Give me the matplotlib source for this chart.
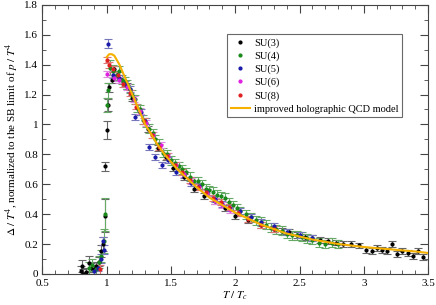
#!/usr/bin/env python3
# -*- coding: utf-8 -*-
import numpy as np
import matplotlib
matplotlib.use("Agg")
import matplotlib.pyplot as plt
from matplotlib.lines import Line2D
from matplotlib.ticker import MultipleLocator

plt.rcParams['font.family'] = ['Liberation Serif', 'DejaVu Serif']
plt.rcParams['mathtext.fontset'] = 'stix'

# improved holographic QCD model curve
model_T = [1.00, 1.02, 1.04, 1.06, 1.08, 1.10, 1.15, 1.20, 1.25, 1.30, 1.35, 1.40,
           1.45, 1.50, 1.55, 1.60, 1.65, 1.70, 1.75, 1.80, 1.85, 1.90, 1.95, 2.00,
           2.10, 2.20, 2.30, 2.40, 2.50, 2.60, 2.70, 2.80, 2.90, 3.00, 3.10, 3.20,
           3.30, 3.40, 3.50]
model_D = [1.45, 1.47, 1.47, 1.46, 1.43, 1.40, 1.30, 1.20, 1.10, 1.00, 0.93, 0.86,
           0.80, 0.75, 0.70, 0.66, 0.62, 0.58, 0.545, 0.51, 0.485, 0.46, 0.435, 0.41,
           0.37, 0.33, 0.30, 0.27, 0.25, 0.23, 0.215, 0.20, 0.19, 0.18, 0.172, 0.165,
           0.157, 0.15, 0.14]

# SU(3)
su3_T = [0.80, 0.81, 0.82, 0.84, 0.86, 0.88, 0.90, 0.92, 0.94, 0.96, 0.97, 0.984,
         0.99, 1.00, 1.01, 1.02, 1.04, 1.06, 1.08, 1.12, 1.16, 1.20, 1.26, 1.32,
         1.40, 1.46, 1.52, 1.60, 1.68, 1.76, 1.84, 1.92, 2.00, 2.10, 2.20, 2.30,
         2.36, 2.42, 2.48, 2.54, 2.60, 2.66, 2.72, 2.78, 2.84, 2.90, 2.96, 3.02,
         3.06, 3.10, 3.14, 3.18, 3.22, 3.26, 3.30, 3.34, 3.38, 3.42, 3.46]
su3_D = [0.02, 0.05, 0.00, 0.01, 0.07, 0.04, 0.03, 0.05, 0.08, 0.15, 0.20, 0.39,
         0.72, 0.96, 1.13, 1.25, 1.30, 1.37, 1.33, 1.30, 1.26, 1.18, 1.08, 0.97,
         0.84, 0.78, 0.71, 0.65, 0.57, 0.52, 0.49, 0.44, 0.39, 0.36, 0.33, 0.30,
         0.29, 0.28, 0.26, 0.25, 0.24, 0.23, 0.22, 0.21, 0.20, 0.20, 0.19, 0.16,
         0.15, 0.17, 0.16, 0.15, 0.20, 0.13, 0.15, 0.14, 0.12, 0.15, 0.11]
su3_err = [0.03, 0.04, 0.03, 0.03, 0.05, 0.03, 0.03, 0.03, 0.03, 0.04, 0.05, 0.11,
           0.03, 0.06, 0.04, 0.03, 0.02, 0.02, 0.02, 0.02, 0.02, 0.02, 0.02, 0.02,
           0.02, 0.02, 0.02, 0.02, 0.02, 0.02, 0.02, 0.02, 0.02, 0.02, 0.02, 0.02,
           0.02, 0.02, 0.02, 0.02, 0.02, 0.02, 0.02, 0.02, 0.02, 0.02, 0.02, 0.02,
           0.02, 0.02, 0.02, 0.02, 0.02, 0.02, 0.02, 0.02, 0.02, 0.02, 0.02]

# SU(4)
su4_T = [0.86, 0.89, 0.92, 0.94, 0.96, 0.98, 0.99, 1.00, 1.01, 1.03, 1.05, 1.08,
         1.10, 1.12, 1.14, 1.16, 1.18, 1.20, 1.22, 1.24, 1.26, 1.28, 1.31, 1.33,
         1.36, 1.38, 1.41, 1.44, 1.47, 1.50, 1.53, 1.56, 1.59, 1.62, 1.65, 1.68,
         1.71, 1.74, 1.77, 1.80, 1.83, 1.86, 1.89, 1.92, 1.95, 1.98, 2.01, 2.04,
         2.08, 2.12, 2.16, 2.20, 2.24, 2.28, 2.32, 2.36, 2.40, 2.44, 2.48, 2.52,
         2.56, 2.60, 2.65, 2.70, 2.75, 2.80]
su4_D = [0.04, 0.06, 0.03, 0.08, 0.12, 0.22, 0.40, 1.13, 1.23, 1.38, 1.36, 1.33,
         1.36, 1.30, 1.29, 1.27, 1.24, 1.20, 1.17, 1.11, 1.10, 1.03, 1.01, 0.97,
         0.94, 0.90, 0.87, 0.81, 0.80, 0.76, 0.74, 0.72, 0.70, 0.68, 0.65, 0.62,
         0.62, 0.60, 0.57, 0.56, 0.55, 0.53, 0.52, 0.51, 0.48, 0.46, 0.44, 0.42,
         0.40, 0.38, 0.36, 0.35, 0.33, 0.31, 0.30, 0.29, 0.27, 0.26, 0.26, 0.25,
         0.24, 0.23, 0.21, 0.20, 0.21, 0.20]
su4_err = [0.04, 0.04, 0.03, 0.04, 0.04, 0.08, 0.11, 0.05, 0.05, 0.05, 0.04, 0.03,
           0.03, 0.03, 0.03, 0.03, 0.03, 0.03, 0.03, 0.03, 0.03, 0.03, 0.03, 0.03,
           0.03, 0.03, 0.03, 0.03, 0.03, 0.03, 0.03, 0.03, 0.03, 0.03, 0.03, 0.03,
           0.03, 0.03, 0.03, 0.03, 0.03, 0.03, 0.03, 0.03, 0.03, 0.03, 0.03, 0.03,
           0.03, 0.03, 0.03, 0.03, 0.03, 0.03, 0.03, 0.03, 0.03, 0.03, 0.03, 0.03,
           0.03, 0.03, 0.03, 0.03, 0.03, 0.03]

# SU(5)
su5_T = [0.90, 0.93, 0.96, 0.975, 0.98, 1.01, 1.05, 1.10, 1.14, 1.18, 1.22, 1.27,
         1.30, 1.33, 1.38, 1.43, 1.48, 1.54, 1.60, 1.66, 1.72, 1.78, 1.84, 1.90,
         1.96, 2.04, 2.12, 2.20, 2.30, 2.40, 2.50, 2.60]
su5_D = [0.02, 0.04, 0.10, 0.22, 0.16, 1.54, 1.33, 1.31, 1.27, 1.24, 1.05, 1.08,
         1.02, 0.85, 0.78, 0.73, 0.76, 0.68, 0.66, 0.61, 0.59, 0.55, 0.50, 0.47,
         0.44, 0.42, 0.38, 0.35, 0.32, 0.28, 0.26, 0.24]
su5_err = [0.02, 0.02, 0.03, 0.03, 0.03, 0.03, 0.02, 0.02, 0.02, 0.02, 0.02, 0.02,
           0.02, 0.02, 0.02, 0.02, 0.02, 0.02, 0.02, 0.02, 0.02, 0.02, 0.02, 0.02,
           0.02, 0.02, 0.02, 0.02, 0.02, 0.02, 0.02, 0.02]

# SU(6)
su6_T = [1.00, 1.06, 1.10, 1.16, 1.21, 1.26, 1.31, 1.36, 1.42, 1.48, 1.54, 1.60,
         1.66, 1.72, 1.78, 1.84, 1.90, 1.96, 2.02]
su6_D = [1.34, 1.31, 1.30, 1.25, 1.17, 1.09, 1.01, 0.93, 0.86, 0.79, 0.73, 0.67,
         0.62, 0.58, 0.54, 0.49, 0.46, 0.43, 0.41]
su6_err = [0.02, 0.02, 0.02, 0.02, 0.02, 0.02, 0.02, 0.02, 0.02, 0.02, 0.02, 0.02,
           0.02, 0.02, 0.02, 0.02, 0.02, 0.02, 0.02]

# SU(8)
su8_T = [0.95, 1.00, 1.02, 1.05, 1.09, 1.13, 1.18, 1.23, 1.29, 1.35, 1.41, 1.47,
         1.53, 1.59, 1.65, 1.71, 1.77, 1.83, 1.89, 1.95, 2.02, 2.10, 2.20, 2.30]
su8_D = [0.03, 1.43, 1.40, 1.37, 1.33, 1.27, 1.21, 1.12, 1.02, 0.93, 0.85, 0.79,
         0.73, 0.68, 0.63, 0.58, 0.55, 0.51, 0.48, 0.45, 0.41, 0.37, 0.33, 0.30]
su8_err = [0.03, 0.02, 0.02, 0.02, 0.02, 0.02, 0.02, 0.02, 0.02, 0.02, 0.02, 0.02,
           0.02, 0.02, 0.02, 0.02, 0.02, 0.02, 0.02, 0.02, 0.02, 0.02, 0.02, 0.02]

series = [
    ("SU(3)", su3_T, su3_D, su3_err, "black", "#666666"),
    ("SU(4)", su4_T, su4_D, su4_err, "#1a8a1a", "#66aa66"),
    ("SU(5)", su5_T, su5_D, su5_err, "#1a1aaa", "#7777bb"),
    ("SU(6)", su6_T, su6_D, su6_err, "#e020e0", "#e088e0"),
    ("SU(8)", su8_T, su8_D, su8_err, "#e02020", "#e07777"),
]


def main():
    fig = plt.figure(figsize=(4.36, 3.05), dpi=100)
    ax = fig.add_axes([0.097, 0.102, 0.885, 0.882])

    handles = []
    for label, T, D, err, col, ecol in series:
        ax.errorbar(T, D, yerr=err, fmt='o', ms=2, color=col, ecolor=ecol,
                    elinewidth=0.8, capsize=3.2, capthick=0.8, zorder=2)
        handles.append(Line2D([], [], ls='none', marker='o', ms=2, color=col,
                              label=label))

    line, = ax.plot(model_T, model_D, color='#f5b000', lw=1.5, zorder=3,
                    label='improved holographic QCD model')
    handles.append(line)

    ax.set_xlim(0.5, 3.5)
    ax.set_ylim(0, 1.8)
    ax.xaxis.set_minor_locator(MultipleLocator(0.1))
    ax.yaxis.set_minor_locator(MultipleLocator(0.1))
    ax.set_yticks(np.arange(0, 1.81, 0.2))
    ax.set_yticklabels(['0', '0.2', '0.4', '0.6', '0.8', '1', '1.2', '1.4', '1.6', '1.8'])
    ax.set_xticks([0.5, 1, 1.5, 2, 2.5, 3, 3.5])
    ax.set_xticklabels(['0.5', '1', '1.5', '2', '2.5', '3', '3.5'])
    ax.tick_params(which='both', direction='in', top=True, right=True,
                   labelsize=8, color='#444444')
    ax.tick_params(axis='y', pad=3)
    ax.tick_params(axis='x', pad=4)
    ax.tick_params(which='major', length=6)
    ax.tick_params(which='minor', length=3)
    for s in ax.spines.values():
        s.set_color('#444444')
        s.set_linewidth(0.8)

    ax.set_xlabel(r'$T\ /\ T_c$', fontsize=8, labelpad=1)
    ax.set_ylabel(r'$\Delta\ /\ T^4$, normalized to the SB limit of $p\ /\ T^4$',
                  fontsize=8, labelpad=2)

    leg = ax.legend(handles=handles, loc='upper right', bbox_to_anchor=(0.946, 0.91),
                    fontsize=7.5, frameon=True, fancybox=False, edgecolor='#444444',
                    labelspacing=0.35, handlelength=1.8, handletextpad=0.4,
                    borderpad=0.35)
    leg.get_frame().set_linewidth(0.8)

    fig.savefig("out.png", dpi=100)


if __name__ == '__main__':
    main()
